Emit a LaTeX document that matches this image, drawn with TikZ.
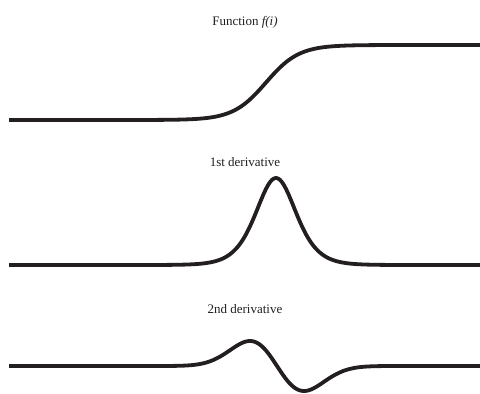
\documentclass[tikz,border=0pt]{standalone}
\usepackage{fontspec}
\setmainfont{Liberation Serif}
\usepackage{tikz}

\definecolor{inkblack}{RGB}{35,31,32}

\begin{document}
\begin{tikzpicture}[x=1pt, y=-1pt,
    fcurve/.style={line width=3.8pt, draw=inkblack, line join=round},
    every node/.style={anchor=base, inner sep=0pt, text=inkblack, font=\fontsize{13}{15}\selectfont}]
      \useasboundingbox (0, 0) rectangle (480, 394);
      \node (title) at (245, 25) {Function \textit{f(i)}};
      \draw[fcurve] plot[domain=9:480, samples=300] (\x, {120-37.5*(1+tanh((\x-266)/33))});
      \node (first) at (245, 166.5) {1st derivative};
      \draw[fcurve] plot[domain=9:480, samples=300] (\x, {265-348*exp(-2*abs((\x-276)/27))/(1+exp(-2*abs((\x-276)/27)))^2});
      \node (second) at (245, 313) {2nd derivative};
      \draw[fcurve] plot[domain=9:480, samples=300] (\x, {366+25*((\x-277)/27)*exp(0.5-0.5*((\x-277)/27)^2)});
\end{tikzpicture}
\end{document}
